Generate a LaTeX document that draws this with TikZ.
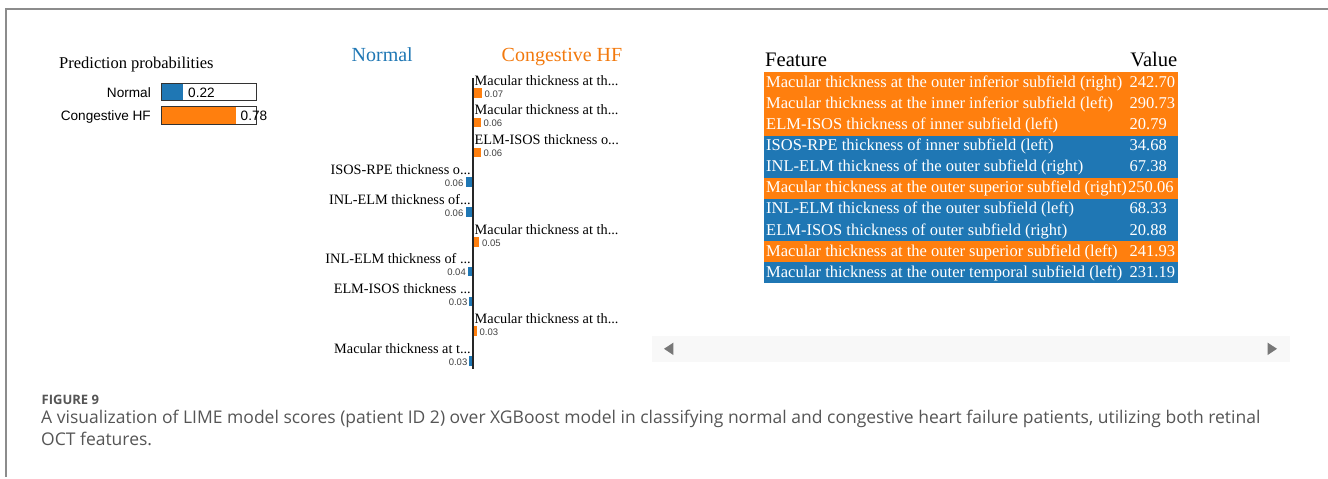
\documentclass[tikz,border=0pt]{standalone}
\usepackage{fontspec}
\setmainfont{Liberation Serif}
\setsansfont{Liberation Sans}
\newfontfamily\captionfont{Open Sans}
\usetikzlibrary{positioning}
\definecolor{limeblue}{RGB}{31,119,180}
\definecolor{limeorange}{RGB}{255,127,14}
\definecolor{framegray}{RGB}{140,140,140}
\definecolor{captiongray}{RGB}{85,85,85}
\definecolor{scrollbg}{RGB}{248,248,248}
\definecolor{scrollarrow}{RGB}{120,120,120}
\newcommand{\fsz}[1]{\fontsize{#1}{#1}\selectfont}

\tikzset{
    featlabel/.style={inner sep=0pt, font=\fsz{14.3}},
    featvalue/.style={inner sep=0pt, font=\sffamily\fsz{9.5}, text=black!75},
    rowtext/.style={inner sep=0pt, anchor=base west, text=white, font=\fsz{16.5}},
    probtext/.style={inner sep=0pt, font=\sffamily\fsz{13.6}},
}

\begin{document}
\begin{tikzpicture}[x=1pt,y=-1pt]
    \useasboundingbox (0,0) rectangle (1328,479);

    % frame
    \draw[framegray, line width=1.5pt] (1328,9) -- (6,9) -- (6,477);

    % prediction probabilities
    \node[inner sep=0pt, anchor=base west, font=\fsz{16.5}] (probtitle) at (59,68) {Prediction probabilities};
    \node[probtext, anchor=base east] (probnormal) at (151,97) {Normal};
    \node[probtext, anchor=base east] (probchf) at (151,120.7) {Congestive HF};
    \fill[limeblue] (161.7,83.3) rectangle (182.6,100.7);
    \draw[black!80, line width=1pt] (161.7,83.3) rectangle (256.7,100.7);
    \fill[limeorange] (161.7,106) rectangle (235.8,124);
    \draw[black!80, line width=1pt] (161.7,106) rectangle (256.7,124);
    \node[probtext, anchor=base west] (valnormal) at (188,97) {0.22};
    \node[probtext, anchor=base west] (valchf) at (240.5,120.7) {0.78};

    % class headings
    \node[inner sep=0pt, anchor=base west, text=limeblue, font=\fsz{20}] (headnormal) at (351.5,61.7) {Normal};
    \node[inner sep=0pt, anchor=base west, text=limeorange!95!black, font=\fsz{20}] (headchf) at (501.5,61.7) {Congestive HF};

    % bars for congestive HF (right of axis)
    \fill[limeorange] (473,88) rectangle ++(8.75,9.5);
    \node[featlabel, anchor=base west] (feat1) at (474.5,85) {Macular thickness at th...};
    \node[featvalue, anchor=base west] (fval1) at (484.5,97) {0.07};

    \fill[limeorange] (473,117.8) rectangle ++(7.5,9.5);
    \node[featlabel, anchor=base west] (feat2) at (474.5,114.8) {Macular thickness at th...};
    \node[featvalue, anchor=base west] (fval2) at (483.5,126.8) {0.06};

    \fill[limeorange] (473,147.6) rectangle ++(7.5,9.5);
    \node[featlabel, anchor=base west] (feat3) at (474.5,144.6) {ELM-ISOS thickness o...};
    \node[featvalue, anchor=base west] (fval3) at (483.5,156.6) {0.06};

    \fill[limeorange] (473,237) rectangle ++(6.25,9.5);
    \node[featlabel, anchor=base west] (feat6) at (474.5,234) {Macular thickness at th...};
    \node[featvalue, anchor=base west] (fval6) at (482,246) {0.05};

    \fill[limeorange] (473,326.4) rectangle ++(3.75,9.5);
    \node[featlabel, anchor=base west] (feat9) at (474.5,323.4) {Macular thickness at th...};
    \node[featvalue, anchor=base west] (fval9) at (479.5,335.4) {0.03};

    % bars for normal (left of axis)
    \fill[limeblue] (473,177.4) rectangle ++(-7.5,9.5);
    \node[featlabel, anchor=base east] (feat4) at (471,174.4) {ISOS-RPE thickness o...};
    \node[featvalue, anchor=base east] (fval4) at (463.5,186.4) {0.06};

    \fill[limeblue] (473,207.2) rectangle ++(-7.5,9.5);
    \node[featlabel, anchor=base east] (feat5) at (471,204.2) {INL-ELM thickness of...};
    \node[featvalue, anchor=base east] (fval5) at (463.5,216.2) {0.06};

    \fill[limeblue] (473,266.8) rectangle ++(-5,9.5);
    \node[featlabel, anchor=base east] (feat7) at (471,263.8) {INL-ELM thickness of ...};
    \node[featvalue, anchor=base east] (fval7) at (466,275.8) {0.04};

    \fill[limeblue] (473,296.6) rectangle ++(-3.75,9.5);
    \node[featlabel, anchor=base east] (feat8) at (471,293.6) {ELM-ISOS thickness ...};
    \node[featvalue, anchor=base east] (fval8) at (467.5,305.6) {0.03};

    \fill[limeblue] (473,356.2) rectangle ++(-3.75,9.5);
    \node[featlabel, anchor=base east] (feat10) at (471,353.2) {Macular thickness at t...};
    \node[featvalue, anchor=base east] (fval10) at (467.5,365.2) {0.03};

    % axis
    \draw[black!85, line width=2.2pt] (473,78) -- (473,368.5);

    % feature table
    \node[inner sep=0pt, anchor=base west, font=\fsz{20.6}] (tabfeature) at (765,66.7) {Feature};
    \node[inner sep=0pt, anchor=base east, font=\fsz{20.6}] (tabvalue) at (1177.5,66.7) {Value};

    \fill[limeorange] (764,72.3) rectangle (1178,135.6);
    \fill[limeblue] (764,135.6) rectangle (1178,177.8);
    \fill[limeorange] (764,177.8) rectangle (1178,198.9);
    \fill[limeblue] (764,198.9) rectangle (1178,241.1);
    \fill[limeorange] (764,241.1) rectangle (1178,262.2);
    \fill[limeblue] (764,262.2) rectangle (1178,283.3);

    \node[rowtext] (row1) at (766,87.3) {Macular thickness at the outer inferior subfield (right)};
    \node[rowtext] (row2) at (766,108.4) {Macular thickness at the inner inferior subfield (left)};
    \node[rowtext] (row3) at (766,129.5) {ELM-ISOS thickness of inner subfield (left)};
    \node[rowtext] (row4) at (766,150.6) {ISOS-RPE thickness of inner subfield (left)};
    \node[rowtext] (row5) at (766,171.7) {INL-ELM thickness of the outer subfield (right)};
    \node[rowtext] (row6) at (766,192.8) {Macular thickness at the outer superior subfield (right)};
    \node[rowtext] (row7) at (766,213.9) {INL-ELM thickness of the outer subfield (left)};
    \node[rowtext] (row8) at (766,235) {ELM-ISOS thickness of outer subfield (right)};
    \node[rowtext] (row9) at (766,256.1) {Macular thickness at the outer superior subfield (left)};
    \node[rowtext] (row10) at (766,277.2) {Macular thickness at the outer temporal subfield (left)};

    \node[rowtext] (rval1) at (1129.5,87.3) {242.70};
    \node[rowtext] (rval2) at (1129.5,108.4) {290.73};
    \node[rowtext] (rval3) at (1129.5,129.5) {20.79};
    \node[rowtext] (rval4) at (1129.5,150.6) {34.68};
    \node[rowtext] (rval5) at (1129.5,171.7) {67.38};
    \node[rowtext] (rval6) at (1128,192.8) {250.06};
    \node[rowtext] (rval7) at (1129.5,213.9) {68.33};
    \node[rowtext] (rval8) at (1129.5,235) {20.88};
    \node[rowtext] (rval9) at (1129.5,256.1) {241.93};
    \node[rowtext] (rval10) at (1129.5,277.2) {231.19};

    % scroll bar
    \fill[scrollbg] (652,336) rectangle (1290,361.5);
    \fill[scrollarrow] (664,348.8) -- (673.3,342.7) -- (673.3,355) -- cycle;
    \fill[scrollarrow] (1277,348.8) -- (1267.7,342.7) -- (1267.7,355) -- cycle;

    % caption
    \node[inner sep=0pt, anchor=base west, text=captiongray, font=\captionfont\bfseries\fsz{13}] (figlabel) at (41.5,404) {FIGURE 9};
    \node[inner sep=0pt, anchor=base west, text=captiongray, font=\captionfont\fsz{17.5}] (capline1) at (41,423.5) {A visualization of LIME model scores (patient ID 2) over XGBoost model in classifying normal and congestive heart failure patients, utilizing both retinal};
    \node[inner sep=0pt, anchor=base west, text=captiongray, font=\captionfont\fsz{17.5}] (capline2) at (41,445) {OCT features.};

\end{tikzpicture}
\end{document}
